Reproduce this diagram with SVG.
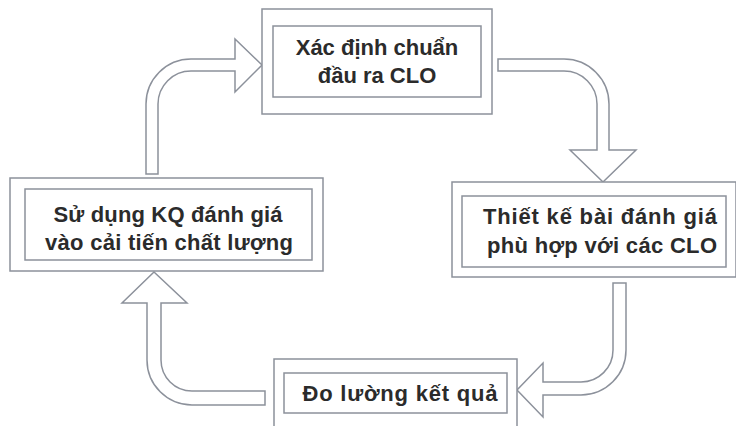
<svg xmlns="http://www.w3.org/2000/svg" width="736" height="426" viewBox="0 0 736 426">
<style>
.box{fill:#ffffff;stroke:#8c919b;stroke-width:1.5}
.arr{fill:#ffffff;stroke:#8c919b;stroke-width:1.5;stroke-linejoin:miter}
.t{font-family:"Liberation Sans",Arial,sans-serif;font-weight:bold;font-size:22px;fill:#2b2b2b;text-anchor:middle}
</style>
<rect width="736" height="426" fill="#ffffff"/>
<g id="connectors">
<path class="arr" d="M146,174 L146,104 A45,45 0 0 1 191,59 L235,59 L235,39 L262,65 L235,92 L235,71 L191,71 A33,33 0 0 0 158,104 L158,174 Z"/>
<path class="arr" d="M498,59 L564,59 A45,45 0 0 1 609,104 L609,150 L636,150 L603,182 L570,150 L597,150 L597,104 A33,33 0 0 0 564,71 L498,71 Z"/>
<path class="arr" d="M613,283 L626,283 L626,350 A45,45 0 0 1 581,395 L543,395 L543,417 L517,390 L543,363 L543,382 L581,382 A32,32 0 0 0 613,350 Z"/>
<path class="arr" d="M265,391 L192,391 A31,31 0 0 1 161,360 L161,303 L187,303 L154,272 L122,303 L147,303 L147,360 A45,45 0 0 0 192,405 L265,405 Z"/>
</g>
<g id="node-clo">
<rect class="box" x="262" y="9" width="230" height="105"/>
<rect class="box" x="273" y="26" width="208" height="71"/>
<text class="t" x="377" y="55">Xác định chuẩn</text>
<text class="t" x="377" y="83">đầu ra CLO</text>
</g>
<g id="node-thietke">
<rect class="box" x="452" y="182" width="284" height="95"/>
<rect class="box" x="462" y="196" width="264" height="71"/>
<text class="t" x="600" y="224" textLength="234" lengthAdjust="spacing">Thiết kế bài đánh giá</text>
<text class="t" x="602" y="253" textLength="230" lengthAdjust="spacing">phù hợp với các CLO</text>
</g>
<g id="node-doluong">
<rect class="box" x="274" y="359" width="243" height="70"/>
<rect class="box" x="284" y="373" width="223" height="40"/>
<text class="t" x="400" y="401" textLength="195" lengthAdjust="spacing">Đo lường kết quả</text>
</g>
<g id="node-sudung">
<rect class="box" x="10" y="178" width="313" height="93"/>
<rect class="box" x="25" y="189" width="287" height="71"/>
<text class="t" x="168" y="222" textLength="229" lengthAdjust="spacing">Sử dụng KQ đánh giá</text>
<text class="t" x="169" y="250" textLength="248" lengthAdjust="spacing">vào cải tiến chất lượng</text>
</g>
</svg>
